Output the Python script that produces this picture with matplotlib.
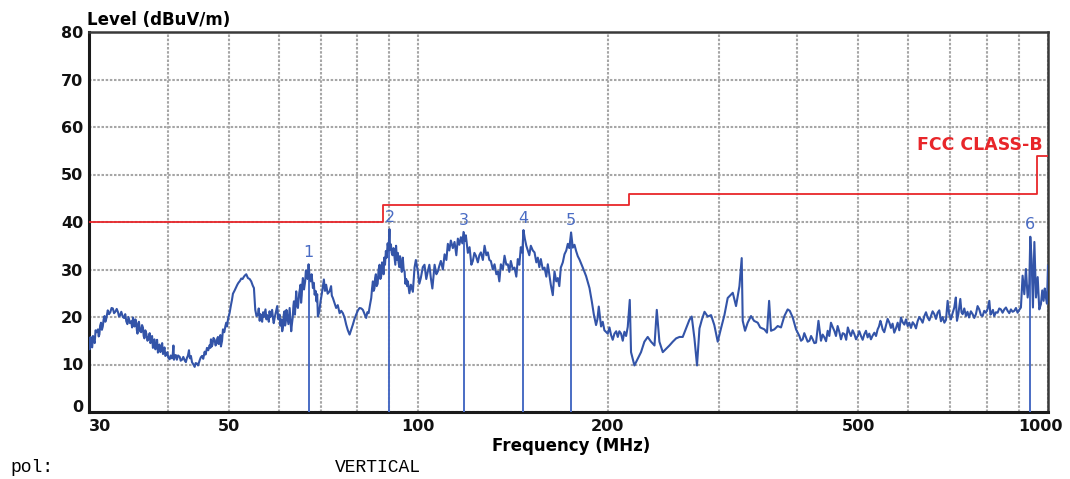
import matplotlib
matplotlib.use("Agg")
import matplotlib.pyplot as plt
import matplotlib.transforms as mtransforms

# ---------------- data ----------------
# segment 30-55 MHz
freq_a = [
    30.0, 30.07, 30.18, 30.25, 30.35, 30.44, 30.54, 30.63, 30.73, 30.83,
    31.0, 31.08, 31.16, 31.25, 31.35, 31.45, 31.55, 31.65, 31.75, 31.85,
    31.95, 32.13, 32.28, 32.43, 32.58, 32.73, 32.88, 33.03, 33.2, 33.36,
    33.48, 33.6, 33.76, 33.95, 34.1, 34.25, 34.38, 34.52, 34.66, 34.85,
    35.01, 35.12, 35.24, 35.33, 35.43, 35.55, 35.66, 35.74, 35.82, 35.92,
    36.01, 36.15, 36.31, 36.42, 36.54, 36.64, 36.74, 36.86, 37.0, 37.15,
    37.29, 37.45, 37.55, 37.67, 37.78, 37.9, 38.0, 38.11, 38.24, 38.37,
    38.48, 38.6, 38.7, 38.82, 38.95, 39.08, 39.2, 39.32, 39.43, 39.54,
    39.66, 39.8, 39.95, 40.1, 40.29, 40.45, 40.63, 40.75, 40.85, 40.93,
    41.03, 41.2, 41.37, 41.55, 41.8, 41.95, 42.15, 42.35, 42.56, 42.75,
    42.92, 43.08, 43.24, 43.32, 43.4, 43.55, 43.72, 43.9, 44.15, 44.3,
    44.52, 44.7, 44.97, 45.15, 45.35, 45.55, 45.79, 45.95, 46.18, 46.4,
    46.64, 46.75, 46.86, 47.0, 47.12, 47.3, 47.5, 47.65, 47.82, 47.95,
    48.08, 48.22, 48.37, 48.5, 48.6, 48.8, 48.96, 49.2, 49.4, 49.55,
    49.7, 49.87, 50.17, 50.41, 50.6, 50.78, 51.1, 51.39, 51.6, 51.81,
    52.1, 52.35, 52.6, 52.87, 53.1, 53.31, 53.64, 53.98, 54.29, 54.6,
]
level_a = [
    15.5, 13.2, 15.8, 14.0, 13.6, 16.0, 15.0, 14.5, 17.2, 16.8,
    17.4, 15.9, 16.3, 18.2, 18.8, 17.3, 18.0, 19.5, 20.2, 19.0,
    19.6, 21.4, 20.6, 21.0, 21.9, 21.8, 20.8, 21.1, 21.7, 21.0,
    20.1, 20.3, 21.1, 20.0, 19.8, 20.6, 19.1, 18.5, 20.0, 18.7,
    19.1, 17.8, 19.9, 18.6, 18.0, 19.5, 18.8, 17.2, 16.5, 18.4,
    19.0, 17.0, 16.8, 18.3, 17.8, 16.0, 15.5, 17.2, 16.5, 15.0,
    15.5, 16.6, 14.5, 14.9, 16.0, 13.5, 14.8, 15.3, 13.2, 14.0,
    15.2, 12.5, 13.8, 14.2, 12.6, 13.4, 14.5, 12.2, 13.0, 13.6,
    11.8, 12.0, 12.6, 11.4, 11.1, 11.9, 11.3, 12.1, 14.0, 11.0,
    11.6, 12.0, 11.0, 11.9, 11.6, 10.8, 11.0, 11.6, 10.9, 10.5,
    11.4, 11.9, 13.0, 11.7, 11.3, 11.8, 10.5, 10.1, 9.5, 10.3,
    10.2, 9.8, 10.9, 11.5, 11.8, 11.2, 12.7, 12.1, 13.5, 13.0,
    14.1, 13.5, 15.3, 13.8, 14.2, 15.6, 15.2, 14.0, 14.4, 15.5,
    15.8, 14.3, 14.9, 16.2, 13.8, 15.0, 17.4, 16.8, 18.1, 18.8,
    18.0, 19.5, 20.9, 22.5, 23.6, 24.9, 25.6, 26.3, 26.8, 27.2,
    27.6, 28.1, 28.0, 28.5, 28.8, 29.0, 28.2, 28.0, 27.5, 26.6,
]

# segment 55-96 MHz
freq_b = [
    54.83, 55.1, 55.35, 55.64, 55.8, 56.0, 56.15, 56.32, 56.5, 56.7,
    56.85, 57.02, 57.2, 57.4, 57.55, 57.72, 57.9, 58.05, 58.25, 58.41,
    58.6, 58.8, 58.95, 59.14, 59.4, 59.7, 59.95, 60.23, 60.4, 60.6,
    60.8, 60.96, 61.15, 61.32, 61.45, 61.6, 61.75, 61.89, 62.2, 62.48,
    62.65, 62.84, 63.0, 63.2, 63.35, 63.47, 63.7, 64.0, 64.2, 64.4,
    64.7, 65.03, 65.15, 65.3, 65.45, 65.58, 65.85, 66.13, 66.3, 66.5,
    66.7, 66.96, 67.2, 67.46, 67.7, 68.03, 68.25, 68.46, 68.7, 68.9,
    69.1, 69.28, 69.6, 69.96, 70.4, 70.81, 71.1, 71.4, 71.8, 72.3,
    72.7, 72.9, 73.18, 73.6, 74.06, 74.5, 75.0, 75.45, 75.91, 76.4,
    76.83, 77.3, 77.79, 78.25, 78.73, 79.2, 79.68, 80.2, 80.69, 81.2,
    81.66, 82.2, 82.66, 83.0, 83.39, 83.8, 84.2, 84.45, 84.71, 84.95,
    85.2, 85.4, 85.64, 85.9, 86.2, 86.5, 86.81, 87.05, 87.3, 87.6,
    87.87, 88.1, 88.3, 88.55, 88.83, 89.1, 89.4, 89.7, 90.0, 90.2,
    90.47, 90.75, 91.0, 91.35, 91.7, 91.95, 92.2, 92.5, 92.81, 93.05,
    93.3, 93.55, 93.84, 94.15, 94.5, 94.8, 95.12, 95.4, 95.7, 96.0,
]
level_b = [
    26.1, 21.5, 20.2, 20.5, 21.8, 19.2, 20.6, 20.1, 19.0, 21.0,
    20.0, 20.8, 21.6, 19.5, 20.4, 20.1, 19.0, 21.2, 20.0, 20.5,
    21.5, 19.6, 18.7, 19.8, 21.0, 22.3, 19.5, 20.5, 18.2, 19.5,
    17.0, 17.7, 20.5, 21.2, 18.2, 19.0, 21.5, 20.5, 18.5, 21.9,
    19.5, 17.0, 18.5, 20.0, 22.4, 23.3, 20.5, 25.4, 22.5, 21.9,
    25.0, 26.8, 23.0, 24.5, 27.0, 28.2, 25.8, 27.5, 29.8, 29.5,
    28.0, 31.1, 28.5, 27.5, 29.0, 26.1, 27.2, 24.7, 25.5, 23.3,
    24.8, 20.1, 21.0, 23.3, 25.5, 27.9, 25.5, 26.8, 24.9, 25.4,
    26.5, 24.5, 24.0, 23.0, 21.9, 22.5, 20.8, 21.3, 20.8, 19.8,
    18.4, 17.2, 16.3, 17.3, 18.4, 19.6, 20.5, 21.4, 21.9, 21.8,
    21.5, 20.6, 19.8, 21.0, 20.8, 22.5, 24.0, 26.0, 27.5, 25.5,
    26.0, 28.2, 29.0, 26.5, 27.0, 30.0, 31.0, 28.0, 28.5, 31.5,
    30.3, 29.0, 32.5, 31.0, 33.9, 32.5, 35.5, 34.0, 38.5, 34.2,
    35.3, 33.5, 33.0, 34.5, 32.5, 31.0, 35.0, 32.0, 33.5, 31.5,
    30.5, 32.8, 31.0, 29.5, 32.5, 30.0, 29.6, 27.0, 28.0, 26.5,
]

# segment 96-216 MHz
freq_c = [
    96.26, 96.8, 97.33, 98.04, 98.64, 99.12, 99.85, 100.38, 100.93, 101.67,
    102.3, 102.97, 103.55, 104.14, 104.71, 105.29, 106.15, 106.85, 107.42, 108.02,
    108.61, 109.41, 110.1, 110.82, 111.42, 112.03, 112.65, 113.48, 114.18, 114.93,
    115.57, 116.21, 116.85, 117.49, 118.0, 118.57, 119.0, 119.88, 120.63, 121.43,
    122.09, 122.77, 123.44, 124.34, 125.03, 125.72, 126.64, 127.43, 128.27, 128.97,
    129.68, 130.39, 131.34, 132.16, 133.04, 133.77, 134.5, 135.25, 136.24, 137.08,
    137.98, 138.74, 139.5, 140.27, 141.3, 142.17, 143.11, 143.9, 144.7, 145.49,
    146.29, 146.9, 147.63, 148.45, 149.26, 150.08, 150.91, 152.02, 152.97, 153.98,
    154.82, 155.67, 156.53, 157.68, 158.66, 159.71, 160.59, 161.47, 162.35, 163.54,
    164.55, 165.63, 166.54, 167.48, 168.4, 169.63, 170.68, 171.8, 172.76, 173.71,
    174.85, 175.94, 177.04, 178.09, 179.19, 180.3, 182.5, 184.72, 187.02, 188.6,
    189.98, 191.57, 192.5, 193.48, 195.1, 196.3, 197.5, 199.94, 201.2, 202.38,
    203.6, 204.9, 206.2, 207.4, 208.6, 209.9, 211.2, 212.5, 213.8, 215.1,
]
level_c = [
    27.5, 25.0, 26.8, 25.3, 30.4, 32.0, 29.6, 27.0, 28.2, 30.5,
    31.0, 28.0, 29.6, 31.0, 28.2, 26.0, 31.0, 29.0, 29.6, 30.8,
    31.8, 30.0, 33.2, 32.0, 35.4, 34.0, 36.1, 34.5, 35.8, 33.0,
    36.5, 35.2, 36.8, 35.5, 37.9, 36.0, 37.2, 33.5, 34.7, 31.0,
    31.8, 33.5, 32.9, 31.5, 33.0, 33.6, 32.0, 35.0, 33.0, 33.6,
    32.0, 31.8, 30.0, 31.1, 29.0, 29.6, 27.5, 31.1, 30.0, 32.9,
    31.0, 31.1, 29.5, 31.8, 30.0, 30.4, 28.5, 32.2, 31.0, 34.7,
    33.5, 38.3, 36.5, 35.0, 34.0, 33.0, 35.0, 34.0, 33.6, 31.5,
    32.5, 30.5, 32.2, 30.0, 30.4, 28.5, 31.1, 29.0, 26.8, 24.6,
    29.6, 27.5, 28.2, 26.5, 30.4, 31.5, 33.2, 34.0, 35.4, 34.5,
    37.8, 34.6, 35.2, 33.9, 32.8, 32.1, 30.4, 28.6, 26.1, 23.3,
    20.6, 18.3, 19.5, 22.2, 18.0, 19.0, 17.2, 16.5, 17.8, 16.2,
    15.2, 16.5, 17.0, 15.8, 17.0, 16.5, 15.0, 16.9, 16.0, 17.9,
]

# segment 216-1000 MHz
freq_d = [
    216.7, 217.7, 220.4, 223.1, 225.8, 228.6, 231.4, 234.2, 237.2, 239.2,
    241.5, 244.5, 247.5, 250.5, 253.6, 256.7, 259.9, 263.0, 266.2, 269.5,
    271.8, 274.5, 277.1, 279.6, 282.0, 284.8, 288.2, 291.7, 295.2, 298.9,
    302.5, 306.3, 310.0, 315.8, 319.6, 323.6, 326.3, 327.5, 330.3, 333.5,
    337.6, 341.3, 346.0, 349.1, 354.5, 357.9, 360.7, 363.2, 367.7, 372.2,
    376.7, 381.4, 386.0, 389.0, 393.2, 398.0, 402.9, 405.3, 407.8, 410.2,
    412.7, 415.3, 418.0, 420.5, 423.0, 425.6, 428.2, 432.0, 436.0, 438.7,
    441.5, 444.2, 446.8, 449.5, 452.2, 455.0, 457.8, 460.6, 463.4, 466.2,
    469.1, 472.1, 475.2, 478.1, 481.0, 483.7, 486.5, 489.5, 492.6, 495.6,
    498.6, 501.6, 504.7, 507.8, 511.0, 514.0, 517.1, 520.2, 523.4, 526.7,
    530.0, 533.2, 536.4, 539.0, 541.8, 544.0, 546.3, 549.5, 552.7, 556.3,
    559.9, 563.1, 566.5, 570.0, 573.5, 577.1, 580.6, 584.1, 587.7, 591.4,
    595.0, 598.6, 602.2, 605.9, 609.7, 613.5, 617.1, 620.8, 624.6, 628.4,
    632.3, 636.3, 640.1, 644.0, 647.9, 651.8, 655.8, 659.9, 663.9, 667.9,
    672.0, 676.1, 680.3, 684.6, 688.7, 692.8, 697.0, 701.2, 705.5, 709.9,
    713.9, 716.9, 720.5, 725.7, 728.8, 731.9, 736.3, 740.8, 745.0, 749.3,
    754.2, 759.1, 763.7, 768.3, 773.0, 777.8, 782.5, 787.3, 792.0, 796.8,
    801.8, 806.9, 810.3, 813.7, 817.6, 821.5, 826.6, 831.7, 836.7, 841.8,
    847.0, 852.3, 857.5, 862.7, 868.0, 873.2, 878.6, 884.1, 889.4, 894.8,
    900.2, 905.7, 911.3, 917.0, 922.5, 928.3, 933.9, 937.3, 941.8, 946.4,
    951.4, 957.1, 963.0, 968.6, 974.4, 979.2, 984.0, 988.2, 992.4, 996.2,
    1000.0,
]
level_d = [
    23.6, 12.6, 9.8, 11.2, 12.6, 14.8, 15.8, 14.8, 14.0, 21.5,
    14.8, 12.6, 13.3, 14.0, 14.8, 15.5, 15.8, 15.8, 17.6, 19.4,
    20.1, 15.5, 9.8, 17.6, 19.4, 21.1, 20.1, 20.4, 18.3, 14.8,
    17.6, 20.4, 24.0, 25.1, 22.3, 26.5, 32.4, 19.2, 17.1, 18.8,
    20.2, 19.2, 18.8, 17.8, 17.4, 16.7, 23.4, 17.1, 17.4, 18.1,
    17.8, 20.2, 21.6, 21.3, 19.9, 17.4, 16.0, 15.0, 15.3, 16.6,
    15.7, 14.8, 15.0, 16.0, 15.3, 14.5, 14.6, 19.2, 15.0, 16.3,
    15.7, 14.9, 17.1, 16.0, 18.8, 17.9, 17.1, 16.0, 18.1, 16.9,
    15.3, 16.6, 16.4, 15.2, 17.8, 16.8, 16.0, 17.2, 16.4, 15.3,
    16.0, 17.0, 16.0, 15.2, 16.4, 17.1, 15.7, 16.5, 15.3, 16.1,
    16.7, 16.0, 17.4, 18.0, 19.2, 18.4, 17.4, 16.8, 18.1, 19.6,
    18.8, 17.7, 18.6, 16.7, 17.6, 18.8, 17.2, 19.9, 18.9, 18.4,
    19.5, 18.1, 18.8, 17.7, 18.9, 18.4, 17.6, 19.1, 20.0, 19.5,
    18.8, 20.2, 21.0, 19.9, 19.3, 20.2, 21.2, 20.6, 19.6, 20.9,
    21.4, 19.1, 20.0, 18.8, 19.4, 23.4, 20.5, 19.5, 20.8, 22.0,
    24.1, 19.2, 20.6, 23.8, 21.0, 20.6, 21.8, 20.2, 21.1, 19.9,
    21.2, 20.6, 19.8, 20.6, 22.3, 21.6, 20.4, 20.2, 21.3, 20.9,
    21.7, 23.4, 20.5, 20.9, 21.5, 20.2, 21.0, 20.9, 21.8, 21.6,
    20.9, 21.6, 22.0, 21.3, 20.8, 21.6, 21.1, 21.3, 21.9, 20.9,
    21.5, 22.0, 28.7, 24.8, 30.1, 24.1, 27.0, 36.9, 32.2, 22.0,
    35.8, 24.1, 28.4, 21.6, 22.7, 25.6, 23.4, 26.0, 24.1, 22.8,
    30.8,
]

limit_freq = [30, 88, 88, 216, 216, 960, 960, 1000]
limit_level = [40, 40, 43.5, 43.5, 46, 46, 54, 54]

marker_freq = [67.0, 90.0, 118.0, 146.9, 174.85, 937.3]
marker_level = [31.1, 38.5, 37.9, 38.3, 37.8, 36.9]
marker_labels = ["1", "2", "3", "4", "5", "6"]

x_major = [30, 50, 100, 200, 500, 1000]
x_major_labels = ["30", "50", "100", "200", "500", "1000"]
x_minor = [40, 60, 70, 80, 90, 300, 400, 600, 700, 800, 900]
y_ticks = [0, 10, 20, 30, 40, 50, 60, 70, 80]

freq_mhz = freq_a + freq_b + freq_c + freq_d
level_dbuv = level_a + level_b + level_c + level_d

# ---------------- figure ----------------
W, H = 1070, 479
fig = plt.figure(figsize=(W / 100, H / 100), dpi=100)
fig.patch.set_facecolor("white")
ax = fig.add_axes([89 / W, (H - 412) / H, (1048 - 89) / W, (412 - 32) / H])

ax.set_xscale("log")
ax.set_xlim(30, 1000)
ax.set_ylim(0, 80)

ax.set_xticks(x_major)
ax.set_xticklabels(x_major_labels)
ax.set_xticks(x_minor, minor=True)
ax.set_xticklabels([], minor=True)
ax.set_yticks(y_ticks)
ax.tick_params(axis="both", which="both", length=0)
ax.tick_params(axis="x", pad=5)
ax.tick_params(axis="y", pad=4)

grid_kw = dict(color="#a6a6a6", linestyle=(0, (1.2, 0.8)), linewidth=1.5)
ax.grid(True, which="both", axis="x", **grid_kw)
ax.grid(True, which="major", axis="y", **grid_kw)
ax.set_axisbelow(True)

for lab in ax.get_xticklabels() + ax.get_yticklabels():
    lab.set_fontweight("bold")
    lab.set_fontsize(11.5)
    lab.set_color("#111111")

xl = ax.get_xticklabels()
xl[0].set_horizontalalignment("left")
xl[-1].set_transform(xl[-1].get_transform() + mtransforms.ScaledTranslation(-8 / 100, 0, fig.dpi_scale_trans))
yl = ax.get_yticklabels()
yl[0].set_transform(yl[0].get_transform() + mtransforms.ScaledTranslation(0, 6 / 100, fig.dpi_scale_trans))

for side in ("left", "bottom"):
    ax.spines[side].set_linewidth(2.2)
    ax.spines[side].set_color("#1a1a1a")
for side in ("top", "right"):
    ax.spines[side].set_linewidth(1.8)
    ax.spines[side].set_color("#3a3a3a")

trace_color = "#3354a8"
marker_color = "#4a6cc4"

# limit line
ax.plot(limit_freq, limit_level, color="#e8262a", linewidth=1.3, zorder=3)

# marker lines
ax.vlines(marker_freq, 0, marker_level, color=marker_color, linewidth=1.4, zorder=4)

# trace
ax.plot(freq_mhz, level_dbuv, color=trace_color, linewidth=1.5, zorder=5)

for f, lv, lab in zip(marker_freq, marker_level, marker_labels):
    ax.text(f, lv + 0.9, lab, color=marker_color, fontsize=11.5, ha="center", va="bottom", zorder=6)

ax.text((1043 - 89) / (1048 - 89), (412 - 145) / 380, "FCC CLASS-B", transform=ax.transAxes,
        color="#e8262a", fontsize=12.5, fontweight="bold", ha="right", va="center")

fig.text(87 / W, 1 - 20 / H, "Level (dBuV/m)", fontsize=12, fontweight="bold", ha="left", va="center")
fig.text(571 / W, 1 - 446 / H, "Frequency (MHz)", fontsize=12, fontweight="bold", ha="center", va="center")
fig.text(10 / W, 1 - 468 / H, "pol:", family="Liberation Mono", fontsize=13, ha="left", va="center")
fig.text(335 / W, 1 - 468 / H, "VERTICAL", family="Liberation Mono", fontsize=13, ha="left", va="center")

fig.savefig("out.png", dpi=100, facecolor="white")
